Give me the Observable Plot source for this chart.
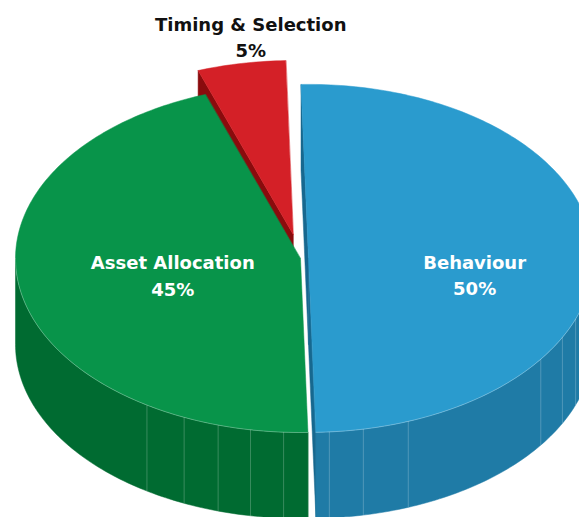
<!DOCTYPE html>
<html><head><meta charset="utf-8">
<script src="https://cdn.jsdelivr.net/npm/d3@7"></script>
<script src="https://cdn.jsdelivr.net/npm/@observablehq/plot@0.6"></script>
<style>html,body{margin:0;padding:0;background:#fff;overflow:hidden}</style>
</head><body><div id="chart"></div>
<script>
// ---- data ----
const categories = ["Behaviour", "Asset Allocation", "Timing & Selection"];
const shares = [50, 45, 5];
const valueLabels = ["50%", "45%", "5%"];
// ---- styles ----
const topColors = ["#2a9bce", "#08944a", "#d42027"];
const sideColors = ["#1f7ba6", "#006b31", "#8c0c0e"];
const wallColors = ["#17688f", "#005a28", "#8a0b0d"];
const explode = [0.028, 0.0, 0.14];
const facetAngles = [110.4, 117, 125.4, 159.5, 168.9, 175.8, 183.4, 190.1, 196.8, 204.1, 212.6];

const total = d3.sum(shares);
const rot = -1.5, depth = 0.494, step = 1;
const rad = d => d * Math.PI / 180;
let acc = rot;
const slices = categories.map((name, i) => {
  const a0 = acc, a1 = acc + shares[i] / total * 360; acc = a1;
  const mid = (a0 + a1) / 2;
  return {i, name, a0, a1, mid,
    ox: explode[i] * Math.sin(rad(mid)), oy: -explode[i] * Math.cos(rad(mid))};
});
const pt = (s, a, dz = 0) => ({x: s.ox + Math.sin(rad(a)), y: s.oy - Math.cos(rad(a)) + dz});
const arc = (s, from, to, dz = 0) => {
  const n = Math.max(2, Math.ceil(Math.abs(to - from) / step));
  return d3.range(n + 1).map(k => pt(s, from + (to - from) * k / n, dz));
};

const polys = [];
const edges = [];
const add = (id, pts, fill) => pts.forEach(p => polys.push({id, x: p.x, y: p.y, fill}));
// painter's order: back to front
const order = [2, 1, 0];
for (const i of order) {
  const s = slices[i];
  const c = {x: s.ox, y: s.oy}, cb = {x: s.ox, y: s.oy + depth};
  // radial walls
  if (Math.sin(rad(s.a0)) < 0) add(`w0-${i}`, [c, pt(s, s.a0), pt(s, s.a0, depth), cb], wallColors[i]);
  if (Math.sin(rad(s.a1)) > 0) add(`w1-${i}`, [c, pt(s, s.a1), pt(s, s.a1, depth), cb], wallColors[i]);
  // outer wall (front half)
  const f = Math.max(s.a0, 90), t = Math.min(s.a1, 270);
  if (t > f) {
    add(`o-${i}`, [...arc(s, f, t), ...arc(s, t, f, depth)], sideColors[i]);
    arc(s, f, t).forEach(p => edges.push({id: `e-${i}`, ...p}));
  }
  // top face
  add(`t-${i}`, [c, ...arc(s, s.a0, s.a1)], topColors[i]);
}

const facets = facetAngles.map(a => {
  const s = slices.find(s => a >= s.a0 && a <= s.a1);
  const p = pt(s, a), q = pt(s, a, depth);
  return {x1: p.x, y1: p.y, x2: q.x, y2: q.y};
});

const labels = slices.map(s => {
  const outside = shares[s.i] / total < 0.1;
  const r = outside ? 1.165 : 0.52;
  return {
    x: s.ox + r * Math.sin(rad(s.mid)),
    y: outside ? s.oy - r * Math.cos(rad(s.mid)) : s.oy + 0.09,
    text: `${s.name}\n${valueLabels[s.i]}`,
    color: outside ? "#111" : "#fff"
  };
});

const chart = Plot.plot({
  width: 579, height: 517,
  marginTop: 0, marginRight: 0, marginBottom: 0, marginLeft: 0,
  x: {domain: [-1, 1], range: [15, 585], axis: null},
  y: {domain: [-1, 1], range: [84, 432], axis: null},
  color: {type: "identity"},
  style: {background: "#fff", overflow: "hidden"},
  marks: [
    Plot.line(polys, {x: "x", y: "y", z: "id", fill: "fill", stroke: "fill", strokeWidth: 0.5, curve: "linear-closed"}),
    Plot.link(facets, {x1: "x1", y1: "y1", x2: "x2", y2: "y2", stroke: "#fff", strokeOpacity: 0.22, strokeWidth: 1}),
    Plot.line(edges, {x: "x", y: "y", z: "id", stroke: "#fff", strokeOpacity: 0.35, strokeWidth: 0.8}),
    Plot.text(labels, {x: "x", y: "y", text: "text", fill: "color", dx: 18,
      fontSize: 18, fontWeight: 700, fontFamily: "DejaVu Sans", lineAnchor: "middle", lineHeight: 1.45})
  ]
});
document.getElementById("chart").appendChild(chart);
</script>
</body></html>
